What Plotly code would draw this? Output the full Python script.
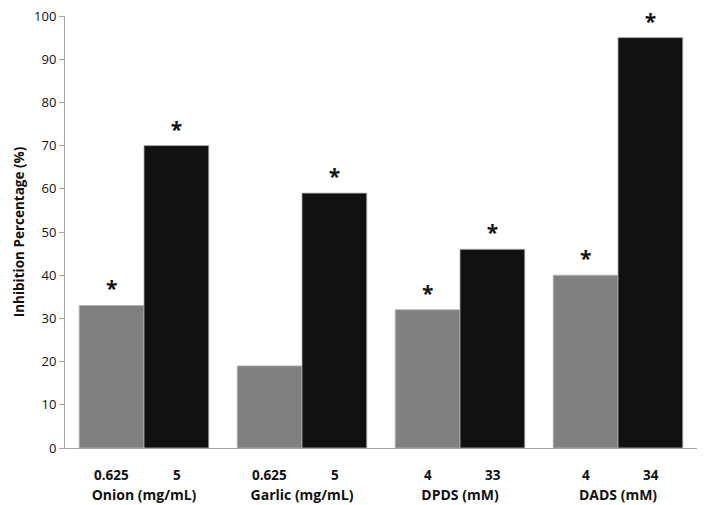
import plotly.graph_objects as go

groups = ["Onion (mg/mL)", "Garlic (mg/mL)", "DPDS (mM)", "DADS (mM)"]
low_labels = ["0.625", "0.625", "4", "4"]
high_labels = ["5", "5", "33", "34"]
low_values = [33, 19, 32, 40]
high_values = [70, 59, 46, 95]
low_star = [True, False, True, True]
high_star = [True, True, True, True]
y_ticks = [0, 10, 20, 30, 40, 50, 60, 70, 80, 90, 100]

FONT = "Open Sans"
BAR_HALF = 32.5
STAR_FONT = dict(family=FONT, size=21, color="#111", weight="bold")

fig = go.Figure()
fig.add_trace(go.Bar(x=groups, y=low_values, name="low",
                     text=["*" if s else "" for s in low_star],
                     textposition="outside", cliponaxis=False, textfont=STAR_FONT,
                     hoverinfo="x+y",
                     marker=dict(color="#808080", line=dict(color="#b0b0b0", width=0.8))))
fig.add_trace(go.Bar(x=groups, y=high_values, name="high",
                     text=["*" if s else "" for s in high_star],
                     textposition="outside", cliponaxis=False, textfont=STAR_FONT,
                     hoverinfo="x+y",
                     marker=dict(color="#111111", line=dict(color="#b0b0b0", width=0.8))))

ann = []
for g, ll, hl in zip(groups, low_labels, high_labels):
    ann.append(dict(x=g, y=0, xref="x", yref="paper", xshift=-BAR_HALF, yshift=-27,
                    text=f"<b>{ll}</b>", showarrow=False, yanchor="middle",
                    font=dict(family=FONT, size=13.5, color="#111")))
    ann.append(dict(x=g, y=0, xref="x", yref="paper", xshift=BAR_HALF, yshift=-27,
                    text=f"<b>{hl}</b>", showarrow=False, yanchor="middle",
                    font=dict(family=FONT, size=13.5, color="#111")))

fig.update_layout(
    width=697, height=497,
    margin=dict(l=57, r=8, t=8, b=57, autoexpand=False),
    paper_bgcolor="white", plot_bgcolor="white",
    barmode="group", bargap=0.18, bargroupgap=0,
    uniformtext=dict(mode=False),
    showlegend=False,
    annotations=ann,
    xaxis=dict(showline=True, linecolor="#a6a6a6", linewidth=1, ticks="",
               showgrid=False, automargin=False,
               tickfont=dict(family=FONT, size=14, color="#111"),
               ticklabelstandoff=34, tickprefix="<b>", ticksuffix="</b>"),
    yaxis=dict(range=[0, 100], tickvals=y_ticks, showline=True, linecolor="#a6a6a6",
               linewidth=1, ticks="outside", ticklen=5, tickcolor="#a6a6a6",
               showgrid=False, zeroline=False, automargin=False,
               ticklabeloverflow="allow",
               tickfont=dict(family=FONT, size=13, color="#111"),
               tickprefix="<b>", ticksuffix="</b>",
               title=dict(text="<b>Inhibition Percentage (%)</b>", standoff=6,
                          font=dict(family=FONT, size=13.5, color="#111"))),
)

fig.write_html("out.html")
